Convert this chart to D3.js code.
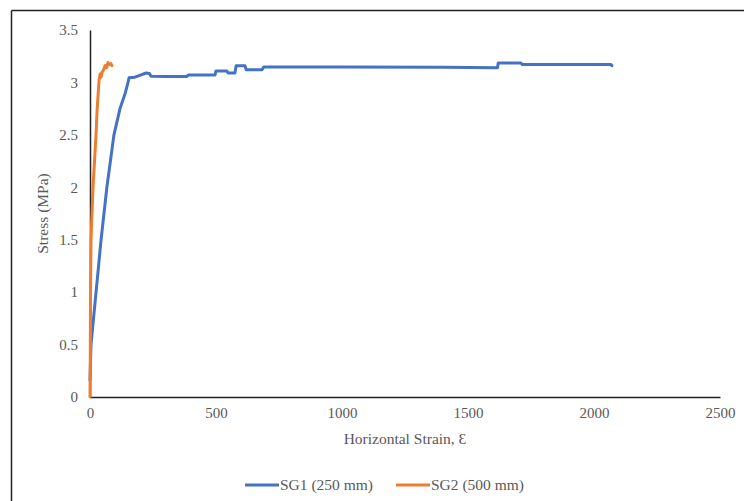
<!DOCTYPE html>
<html>
<head>
<meta charset="utf-8">
<script src="https://cdn.jsdelivr.net/npm/d3@7"></script>
<style>
  html, body { margin: 0; padding: 0; background: #fff; }
  svg { display: block; }
  text { font-family: "Liberation Serif", "Times New Roman", serif; fill: #595959; }
</style>
</head>
<body>
<svg id="chart" width="744" height="501"></svg>
<script>
// ---- data ----
const xTicks = [0, 500, 1000, 1500, 2000, 2500];
const yTicks = [0, 0.5, 1, 1.5, 2, 2.5, 3, 3.5];
const seriesNames = ["SG1 (250 mm)", "SG2 (500 mm)"];
const seriesColors = ["#4472C4", "#ED7D31"];

const sg1Strain = [0, 4, 24, 44, 67, 95, 119, 140, 151, 155, 178, 200, 222, 236, 242, 300, 385, 390, 496, 500, 543, 548, 575, 580, 615, 620, 682, 690, 1000, 1400, 1617, 1620, 1710, 1716, 2066, 2071];
const sg1Stress = [0.16, 0.5, 1.0, 1.5, 2.0, 2.5, 2.75, 2.9, 3.0, 3.045, 3.05, 3.07, 3.09, 3.085, 3.06, 3.057, 3.057, 3.07, 3.07, 3.11, 3.11, 3.09, 3.09, 3.16, 3.16, 3.12, 3.12, 3.148, 3.148, 3.145, 3.14, 3.185, 3.185, 3.17, 3.172, 3.16];

const sg2Strain = [0, 1, 2, 4, 12, 24, 28, 34, 36, 40, 44, 48, 52, 60, 66, 71, 78, 83, 87];
const sg2Stress = [0, 0.3, 1.0, 1.5, 2.0, 2.5, 2.73, 2.95, 3.02, 3.08, 3.05, 3.1, 3.11, 3.16, 3.14, 3.19, 3.17, 3.18, 3.16];

// ---- layout ----
const svg = d3.select("#chart");
const m = { left: 90, right: 720, top: 30, bottom: 397 };

const x = d3.scaleLinear().domain([0, 2500]).range([m.left, m.right]);
const y = d3.scaleLinear().domain([0, 3.5]).range([m.bottom, m.top]);

// outer frame (only top and left visible)
svg.append("line").attr("x1", 11.5).attr("x2", 744).attr("y1", 10.5).attr("y2", 10.5)
  .attr("stroke", "#222").attr("stroke-width", 1.5);
svg.append("line").attr("x1", 11.5).attr("x2", 11.5).attr("y1", 10.5).attr("y2", 501)
  .attr("stroke", "#222").attr("stroke-width", 1.5);

// axes
const xAxis = svg.append("g").attr("transform", `translate(0,${m.bottom})`)
  .call(d3.axisBottom(x).tickValues(xTicks).tickSize(0).tickPadding(10).tickFormat(d3.format("d")));
xAxis.select(".domain").attr("stroke", "#222").attr("stroke-width", 1.5);
xAxis.selectAll("text").style("font-size", "15px").attr("fill", "#595959");

const yAxis = svg.append("g").attr("transform", `translate(${m.left},0)`)
  .call(d3.axisLeft(y).tickValues(yTicks).tickSize(0).tickPadding(12).tickFormat(d => d3.format("")(d)));
yAxis.select(".domain").attr("stroke", "#222").attr("stroke-width", 1.5);
yAxis.selectAll("text").style("font-size", "15px").attr("fill", "#595959");

// titles
svg.append("text").attr("x", (m.left + m.right) / 2).attr("y", 444)
  .attr("text-anchor", "middle").style("font-size", "15.5px").text("Horizontal Strain, Ɛ");
svg.append("text").attr("transform", `translate(48,${(m.top + m.bottom) / 2}) rotate(-90)`)
  .attr("text-anchor", "middle").style("font-size", "15.5px").text("Stress (MPa)");

// lines
const line = d3.line().x(d => x(d[0])).y(d => y(d[1]));
const series = [
  d3.zip(sg1Strain, sg1Stress),
  d3.zip(sg2Strain, sg2Stress)
];
series.forEach((s, i) => {
  svg.append("path").datum(s).attr("d", line)
    .attr("fill", "none").attr("stroke", seriesColors[i]).attr("stroke-width", 3)
    .attr("stroke-linejoin", "round").attr("stroke-linecap", "round");
});

// legend
const legendX = [245, 396];
seriesNames.forEach((name, i) => {
  const g = svg.append("g").attr("transform", `translate(${legendX[i]},485)`);
  g.append("line").attr("x1", 0).attr("x2", 34).attr("y1", 0).attr("y2", 0)
    .attr("stroke", seriesColors[i]).attr("stroke-width", 3);
  g.append("text").attr("x", 35).attr("y", 5).style("font-size", "15.5px").text(name);
});
</script>
</body>
</html>
